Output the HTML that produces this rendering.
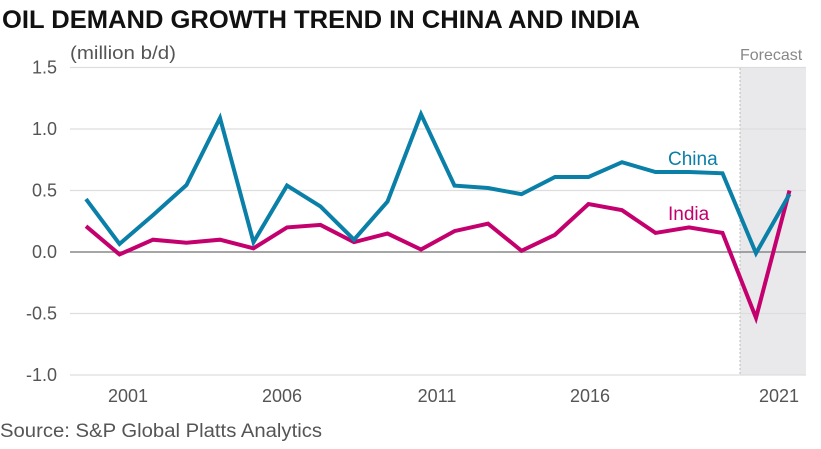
<!DOCTYPE html>
<html><head><meta charset="utf-8"><style>
body{margin:0;background:#fff;width:821px;height:444px;overflow:hidden;font-family:"Liberation Sans",sans-serif}
text{font-family:"Liberation Sans",sans-serif}
</style></head><body>
<svg id="chart" width="821" height="444">
<text x="2" y="28" font-size="25" font-weight="bold" fill="#111" textLength="638" lengthAdjust="spacingAndGlyphs">OIL DEMAND GROWTH TREND IN CHINA AND INDIA</text>
<text x="70" y="59" font-size="18" fill="#555" textLength="106" lengthAdjust="spacingAndGlyphs">(million b/d)</text>
<rect x="740" y="68" width="66" height="307" fill="#e9e9eb"/>
<line x1="740" y1="68" x2="740" y2="375" stroke="#bbb" stroke-dasharray="2,2"/>
<text x="740" y="60" font-size="16" fill="#888">Forecast</text>
<g id="grid"></g><g id="lines"></g>
<text x="668" y="165" font-size="19" fill="#0a7fa8">China</text>
<text x="668" y="220" font-size="19" fill="#c4006e">India</text>
<text x="0" y="437" font-size="19" fill="#555" textLength="322" lengthAdjust="spacingAndGlyphs">Source: S&amp;P Global Platts Analytics</text>
</svg>
<script>
const years=[2000,2001,2002,2003,2004,2005,2006,2007,2008,2009,2010,2011,2012,2013,2014,2015,2016,2017,2018,2019,2020,2021];
const china=[0.43,0.065,0.30,0.545,1.09,0.08,0.54,0.37,0.10,0.41,1.12,0.54,0.52,0.47,0.61,0.61,0.73,0.65,0.65,0.64,-0.01,0.47];
const india=[0.21,-0.02,0.10,0.075,0.10,0.03,0.20,0.22,0.08,0.15,0.02,0.17,0.23,0.01,0.14,0.39,0.34,0.155,0.20,0.155,-0.535,0.50];
const yTicks=[1.5,1.0,0.5,0.0,-0.5,-1.0];
const yTickLabels=["1.5","1.0","0.5","0.0","-0.5","-1.0"];
const xTickLabels=["2001","2006","2011","2016","2021"];
const NS="http://www.w3.org/2000/svg";
const x=yr=>86+(yr-2000)*33.5;
const y=v=>252-v*123;
const xLabelPos=[128,282,437,590,779];
const grid=document.getElementById('grid'),lines=document.getElementById('lines');
yTicks.forEach((t,i)=>{
 const l=document.createElementNS(NS,'line');
 l.setAttribute('x1',70);l.setAttribute('x2',806);l.setAttribute('y1',y(t));l.setAttribute('y2',y(t));
 l.setAttribute('stroke',t===0?'#888':'#ddd');l.setAttribute('stroke-width',t===0?1.5:1.2);
 
 
 grid.appendChild(l);
 const tx=document.createElementNS(NS,'text');
 tx.setAttribute('x',57);tx.setAttribute('y',y(t)+6);tx.setAttribute('text-anchor','end');
 tx.setAttribute('font-size','18');tx.setAttribute('fill','#555');tx.textContent=yTickLabels[i];
 
 
 grid.appendChild(tx);
});
xTickLabels.forEach((s,i)=>{
 const tx=document.createElementNS(NS,'text');
 tx.setAttribute('x',xLabelPos[i]);tx.setAttribute('y',402);tx.setAttribute('text-anchor','middle');
 tx.setAttribute('font-size','18');tx.setAttribute('fill','#555');tx.textContent=s;
 
 
 grid.appendChild(tx);
});
function drawLine(vals,color,name){
 const p=document.createElementNS(NS,'polyline');
 p.setAttribute('points',vals.map((v,i)=>x(years[i])+','+y(v)).join(' '));
 p.setAttribute('fill','none');p.setAttribute('stroke',color);p.setAttribute('stroke-width',4);
 p.setAttribute('stroke-linejoin','miter');
 
 
 lines.appendChild(p);
}
drawLine(india,'#c4006e','india-line');
drawLine(china,'#0a7fa8','china-line');
</script>
</body></html>
